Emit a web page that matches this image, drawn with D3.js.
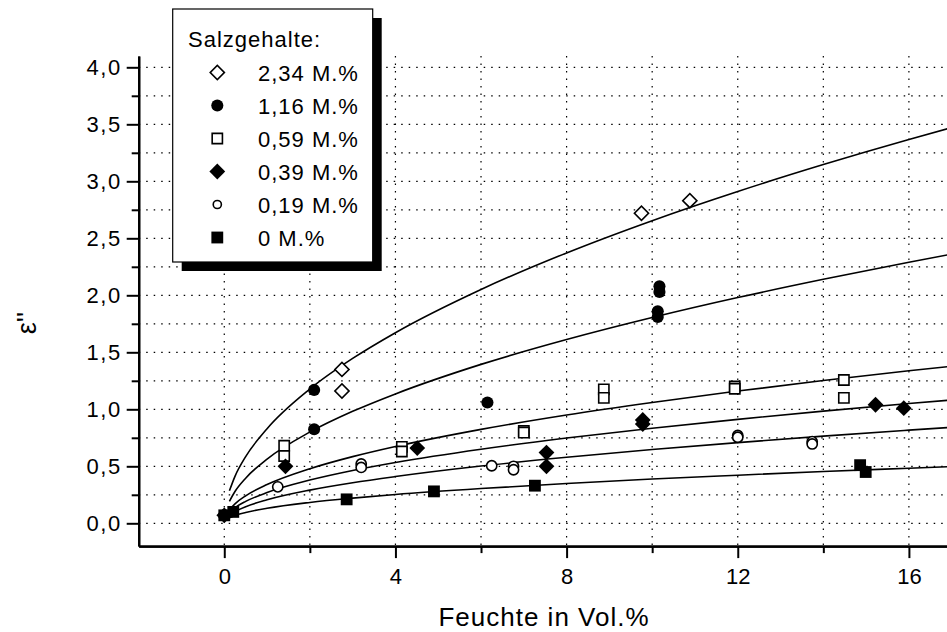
<!DOCTYPE html>
<html><head><meta charset="utf-8">
<script src="https://cdn.jsdelivr.net/npm/d3@7"></script>
<style>
body{margin:0;background:#fff;overflow:hidden}
text{font-family:"Liberation Sans",Arial,sans-serif;fill:#000}
</style>
</head><body><svg id="c" width="947" height="632"></svg>
<script>
// ---- data ----
const legendTitle = "Salzgehalte:";
const legendLabels = ["2,34 M.%","1,16 M.%","0,59 M.%","0,39 M.%","0,19 M.%","0 M.%"];
const xTickValues = [0,4,8,12,16];
const xMinorTicks = [-2,2,6,10,14];
const yTickValues = [0,0.5,1,1.5,2,2.5,3,3.5,4];
const yMinorTicks = [0.25,0.75,1.25,1.75,2.25,2.75,3.25,3.75];
const xTitle = "Feuchte in Vol.%";
const yTitle = "ε''";

const pts234 = [[2.75,1.35],[2.75,1.16],[9.75,2.72],[10.88,2.83]];
const pts116 = [[0,0.07],[2.10,1.17],[2.10,0.825],[6.15,1.06],[10.17,2.08],[10.17,2.03],[10.13,1.86],[10.13,1.81]];
const pts059 = [[1.40,0.68],[1.40,0.59],[4.15,0.67],[4.15,0.63],[7.0,0.81],[7.0,0.795],[8.87,1.175],[8.87,1.10],[11.93,1.20],[11.93,1.18],[14.48,1.257],[14.48,1.10]];
const pts039 = [[0,0.07],[1.43,0.50],[4.51,0.66],[7.53,0.62],[7.53,0.50],[9.78,0.906],[9.78,0.87],[15.22,1.04],[15.88,1.01]];
const pts019 = [[1.25,0.32],[3.2,0.52],[3.2,0.49],[6.25,0.505],[6.76,0.50],[6.76,0.47],[12.0,0.77],[12.0,0.755],[13.74,0.716],[13.74,0.696]];
const pts0   = [[0,0.07],[0.21,0.10],[2.86,0.21],[4.90,0.28],[7.26,0.33],[14.86,0.51],[14.99,0.45]];

// fitted curves
const fitX   = [0.12,0.25,0.5,1,2,3,4,6,8,10,12,14,16,17];
const fit234 = [0.285,0.412,0.585,0.83,1.178,1.446,1.672,2.051,2.372,2.655,2.911,3.147,3.367,3.471];
const fit116 = [0.193,0.279,0.396,0.563,0.800,0.982,1.135,1.394,1.612,1.805,1.980,2.140,2.290,2.361];
const fit059 = [0.119,0.171,0.241,0.34,0.479,0.585,0.674,0.824,0.950,1.060,1.160,1.252,1.338,1.378];
const fit039 = [0.096,0.137,0.192,0.27,0.379,0.463,0.533,0.650,0.748,0.834,0.912,0.984,1.051,1.082];
const fit019 = [0.072,0.103,0.146,0.206,0.291,0.356,0.410,0.502,0.579,0.647,0.708,0.765,0.817,0.842];
const fit0   = [0.049,0.069,0.095,0.132,0.183,0.221,0.253,0.305,0.349,0.388,0.422,0.454,0.483,0.497];

const seriesPts = [pts234,pts116,pts059,pts039,pts019,pts0];
const seriesFit = [fit234,fit116,fit059,fit039,fit019,fit0];
const seriesSym = ["diamondOpen","circleFilled","squareOpen","diamondFilled","circleOpen","squareFilled"];

// ---- chart ----
const svg = d3.select("#c");
const x = d3.scaleLinear().domain([-2,17]).range([138.7,951.7]);
const y = d3.scaleLinear().domain([-0.2,4.1]).range([546.1,55.9]);
const fmt = d => d3.format(".1f")(d).replace(".", ",");

// grid
const grid = svg.append("g").attr("stroke","#000").attr("stroke-width",1.2).attr("stroke-dasharray","1.5,6");
grid.selectAll("line.h").data(yTickValues.concat(yMinorTicks)).join("line")
  .attr("x1",x(-2)).attr("x2",947).attr("y1",d=>y(d)).attr("y2",d=>y(d));
grid.selectAll("line.v").data(xTickValues.concat(xMinorTicks.filter(d=>d>-2))).join("line")
  .attr("y1",y(4.1)).attr("y2",y(-0.2)).attr("x1",d=>x(d)).attr("x2",d=>x(d));

// curves
const line = d3.line().x(d=>x(d[0])).y(d=>y(d[1])).curve(d3.curveMonotoneX);
svg.append("g").selectAll("path").data(seriesFit).join("path")
  .attr("d", f => line(fitX.map((xv,i)=>[xv,f[i]])))
  .attr("fill","none").attr("stroke","#000").attr("stroke-width",1.6);

// symbols
function symPath(kind, legend){
  if(kind==="diamondOpen") return d3.symbol(d3.symbolSquare, 100)();
  if(kind==="diamondFilled") return d3.symbol(d3.symbolSquare, 125)();
  if(kind==="circleFilled") return d3.symbol(d3.symbolCircle, 115)();
  if(kind==="circleOpen") return d3.symbol(d3.symbolCircle, legend?52:82)();
  if(kind==="squareOpen") return d3.symbol(d3.symbolSquare, 105)();
  return d3.symbol(d3.symbolSquare, 140)();
}
function styleSym(sel, kind){
  const open = kind.endsWith("Open");
  sel.attr("fill", open ? "#fff" : "#000")
     .attr("stroke", open ? "#000" : "none")
     .attr("stroke-width", open ? 1.6 : 0);
}
function rot(kind){ return kind.startsWith("diamond") ? " rotate(45)" : ""; }

seriesPts.forEach((pts, si) => {
  const kind = seriesSym[si];
  const g = svg.append("g");
  g.selectAll("path").data(pts).join("path")
    .attr("d", symPath(kind,false))
    .attr("transform", d => `translate(${x(d[0])},${y(d[1])})${rot(kind)}`)
    .call(styleSym, kind);
});

// axes
const axY = svg.append("g").attr("transform",`translate(${x(-2)},0)`)
  .call(d3.axisLeft(y).tickValues(yTickValues).tickSize(12).tickSizeOuter(0).tickPadding(5).tickFormat(fmt));
const axYm = svg.append("g").attr("transform",`translate(${x(-2)},0)`)
  .call(d3.axisLeft(y).tickValues(yMinorTicks).tickSize(7).tickSizeOuter(0).tickFormat(""));
const axX = svg.append("g").attr("transform",`translate(0,${y(-0.2)})`)
  .call(d3.axisBottom(x).tickValues(xTickValues).tickSize(12).tickSizeOuter(0).tickPadding(10).tickFormat(d3.format("d")));
const axXm = svg.append("g").attr("transform",`translate(0,${y(-0.2)})`)
  .call(d3.axisBottom(x).tickValues(xMinorTicks.filter(d=>d>-2)).tickSize(7).tickSizeOuter(0).tickFormat(""));
[axY,axYm,axX,axXm].forEach(a=>{
  a.selectAll("path.domain").attr("stroke","#000").attr("stroke-width",2.2);
  a.selectAll(".tick line").attr("stroke","#000").attr("stroke-width",2);
  a.selectAll(".tick text").attr("font-family",'"Liberation Sans",Arial,sans-serif').attr("font-size",22).attr("fill","#000");
});
axY.selectAll(".tick text").attr("letter-spacing","1.5px");

// axis titles
svg.append("text").attr("x",544).attr("y",626).attr("text-anchor","middle")
  .attr("font-size",26).attr("letter-spacing","1px").text(xTitle);
svg.append("text").attr("transform","translate(36,323) rotate(-90)").attr("text-anchor","middle")
  .attr("font-size",27).text(yTitle);

// legend
const lg = svg.append("g");
lg.append("rect").attr("x",181.7).attr("y",18).attr("width",200).attr("height",253).attr("fill","#000");
lg.append("rect").attr("x",172.7).attr("y",9).attr("width",200).attr("height",253).attr("fill","#fff").attr("stroke","#000").attr("stroke-width",1.2);
lg.append("text").attr("x",188).attr("y",47).attr("font-size",22).attr("letter-spacing","1px").text(legendTitle);
legendLabels.forEach((lab,i)=>{
  const by = 80.5 + i*33;
  const kind = seriesSym[i];
  lg.append("path").attr("d", symPath(kind,true))
    .attr("transform",`translate(217.3,${by-8})${rot(kind)}`).call(styleSym, kind);
  lg.append("text").attr("x",258).attr("y",by).attr("font-size",22).attr("letter-spacing","1px").text(lab);
});
</script></body></html>
